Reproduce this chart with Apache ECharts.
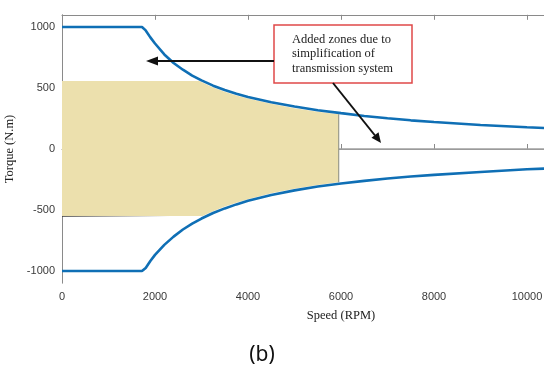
<!DOCTYPE html>
<html><head><meta charset="utf-8">
<script src="https://cdn.jsdelivr.net/npm/echarts@6/dist/echarts.min.js"></script>
<style>html,body{margin:0;padding:0;background:#fff}#c{width:544px;height:378px}</style>
</head><body><div id="c"></div>
<script>
const speed = [0,1720,1800,1900,2000,2200,2400,2600,2800,3000,3250,3500,3750,4000,4500,5000,5500,6000,6500,7000,7500,8000,9000,10000,11000,12000];
const torqueMax = [1000,1000,972,915,865,775,705,650,602,562,519,483,453,427,383,348,318,294,271,252,235,221,197,178,163,150];
const torqueMin = [-1000,-1000,-975,-918,-868,-786,-718,-660,-612,-570,-525,-487,-454,-425,-377,-339,-308,-283,-261,-242,-226,-212,-188,-166,-151,-139];
const zoneTopSpeed = [0,2950,3250,3500,3750,4000,4500,5000,5500,5950];
const zoneTopTorque = [557,557,505,469,439,413,370,335,306,285];
const zoneBottomSpeed = [0,3020,3250,3500,3750,4000,4500,5000,5500,5950];
const zoneBottomTorque = [-549,-549,-510,-472,-440,-411,-363,-326,-295,-272];
const zeroLineSpeed = [5950,12000];
const xTicks = [0,2000,4000,6000,8000,10000,12000];
const yTicks = [-1000,-500,0,500,1000];

const chart = echarts.init(document.getElementById('c'));
const axisGray = '#8a8a8a';
const labelColor = '#3a3a3a';
const serif = '"Liberation Serif", "DejaVu Serif", serif';
const sans = '"Liberation Sans", Arial, sans-serif';

function pairs(xs, ys){ return xs.map((x,i)=>[x, ys[i]]); }

const zoneTop = pairs(zoneTopSpeed, zoneTopTorque);
const zoneBottom = pairs(zoneBottomSpeed, zoneBottomTorque);
const lastTop = zoneTop[zoneTop.length-1];
const lastBottom = zoneBottom[zoneBottom.length-1];

chart.setOption({
  animation: false,
  backgroundColor: '#fff',
  grid: {left: 62, top: 14.8, width: 558, height: 268.4, containLabel: false, outerBoundsMode: 'none'},
  xAxis: [{
    type: 'value', min: 0, max: 12000, interval: 2000,
    name: 'Speed (RPM)', nameLocation: 'middle', nameGap: 26,
    nameTextStyle: {fontFamily: serif, fontSize: 12.5, color: '#222'},
    axisLine: {show: true, lineStyle: {color: axisGray, width: 1}},
    axisTick: {show: true, inside: true, length: 5, customValues: xTicks, lineStyle: {color: axisGray}},
    axisLabel: {color: labelColor, fontSize: 11, margin: 8, fontFamily: sans, customValues: xTicks, formatter: v => String(v)},
    splitLine: {show: false}
  }, {
    type: 'value', min: 0, max: 12000, interval: 2000, position: 'top',
    axisLine: {show: true, lineStyle: {color: axisGray, width: 1}},
    axisTick: {show: true, inside: true, length: 5, customValues: xTicks, lineStyle: {color: axisGray}},
    axisLabel: {show: false}, splitLine: {show: false}
  }],
  yAxis: [{
    type: 'value', min: -1100, max: 1100,
    name: 'Torque (N.m)', nameLocation: 'middle', nameGap: 41,
    nameTextStyle: {fontFamily: serif, fontSize: 12.5, color: '#222'},
    axisLine: {show: true, lineStyle: {color: axisGray, width: 1}},
    axisTick: {show: true, inside: true, length: 5, customValues: yTicks, lineStyle: {color: axisGray}},
    axisLabel: {color: labelColor, fontSize: 11, margin: 7, customValues: yTicks, fontFamily: sans, formatter: v => String(v)},
    splitLine: {show: false}
  }],
  series: [
    {
      type: 'line', data: zeroLineSpeed.map(s=>[s,0]), symbol: 'none',
      lineStyle: {color: '#a0a0a0', width: 1.5}, z: 1, silent: true
    },
    {
      type: 'custom', coordinateSystem: 'cartesian2d', data: [[0,0]], z: 2, silent: true,
      renderItem: function(params, api){
        const pts = [];
        zoneTop.forEach(p=>pts.push(api.coord(p)));
        for (let i = zoneBottom.length-1; i >= 0; i--) pts.push(api.coord(zoneBottom[i]));
        const a = api.coord(lastTop), b = api.coord(lastBottom);
        const c0 = api.coord(zoneBottom[0]), c1 = api.coord([2300, zoneBottom[0][1]]);
        return {type: 'group', children: [
          {type: 'polygon', shape: {points: pts}, style: {fill: '#ece0ad', stroke: null}},
          {type: 'line', shape: {x1: a[0], y1: a[1], x2: b[0], y2: b[1]}, style: {stroke: '#9a9a8a', lineWidth: 1.2}},
          {type: 'line', shape: {x1: c0[0], y1: c0[1]+0.5, x2: c1[0], y2: c1[1]+0.5},
           style: {stroke: new echarts.graphic.LinearGradient(0,0,1,0,[{offset:0,color:'rgba(60,60,60,0.8)'},{offset:1,color:'rgba(60,60,60,0)'}]), lineWidth: 1}}
        ]};
      }
    },
    {
      type: 'line', data: pairs(speed, torqueMax), symbol: 'none', smooth: false,
      lineStyle: {color: '#0f6fb5', width: 2.6}, z: 3
    },
    {
      type: 'line', data: pairs(speed, torqueMin), symbol: 'none', smooth: false,
      lineStyle: {color: '#0f6fb5', width: 2.6}, z: 3
    }
  ],
  graphic: [
    {type: 'rect', shape: {x: 274, y: 25, width: 138, height: 58}, style: {fill: '#fff', stroke: '#e04848', lineWidth: 1.5}, z: 10},
    {type: 'text', x: 292, y: 32, style: {text: 'Added zones due to\nsimplification of\ntransmission system', font: '12.5px ' + serif, lineHeight: 14.5, fill: '#222'}, z: 11},
    {type: 'line', shape: {x1: 274, y1: 61, x2: 156, y2: 61}, style: {stroke: '#111', lineWidth: 2}, z: 10},
    {type: 'polygon', shape: {points: [[146,61],[158,56.5],[158,65.5]]}, style: {fill: '#111'}, z: 10},
    {type: 'line', shape: {x1: 333, y1: 83, x2: 375, y2: 135.5}, style: {stroke: '#111', lineWidth: 2}, z: 10},
    {type: 'polygon', shape: {points: [[381,143],[371.5,137.8],[378.5,132.2]]}, style: {fill: '#111'}, z: 10},
    {type: 'text', x: 262, y: 355, style: {text: '(b)', font: '21px "Noto Sans", "Liberation Sans", sans-serif', fill: '#111', align: 'center', verticalAlign: 'middle'}, z: 10}
  ]
});
</script></body></html>
